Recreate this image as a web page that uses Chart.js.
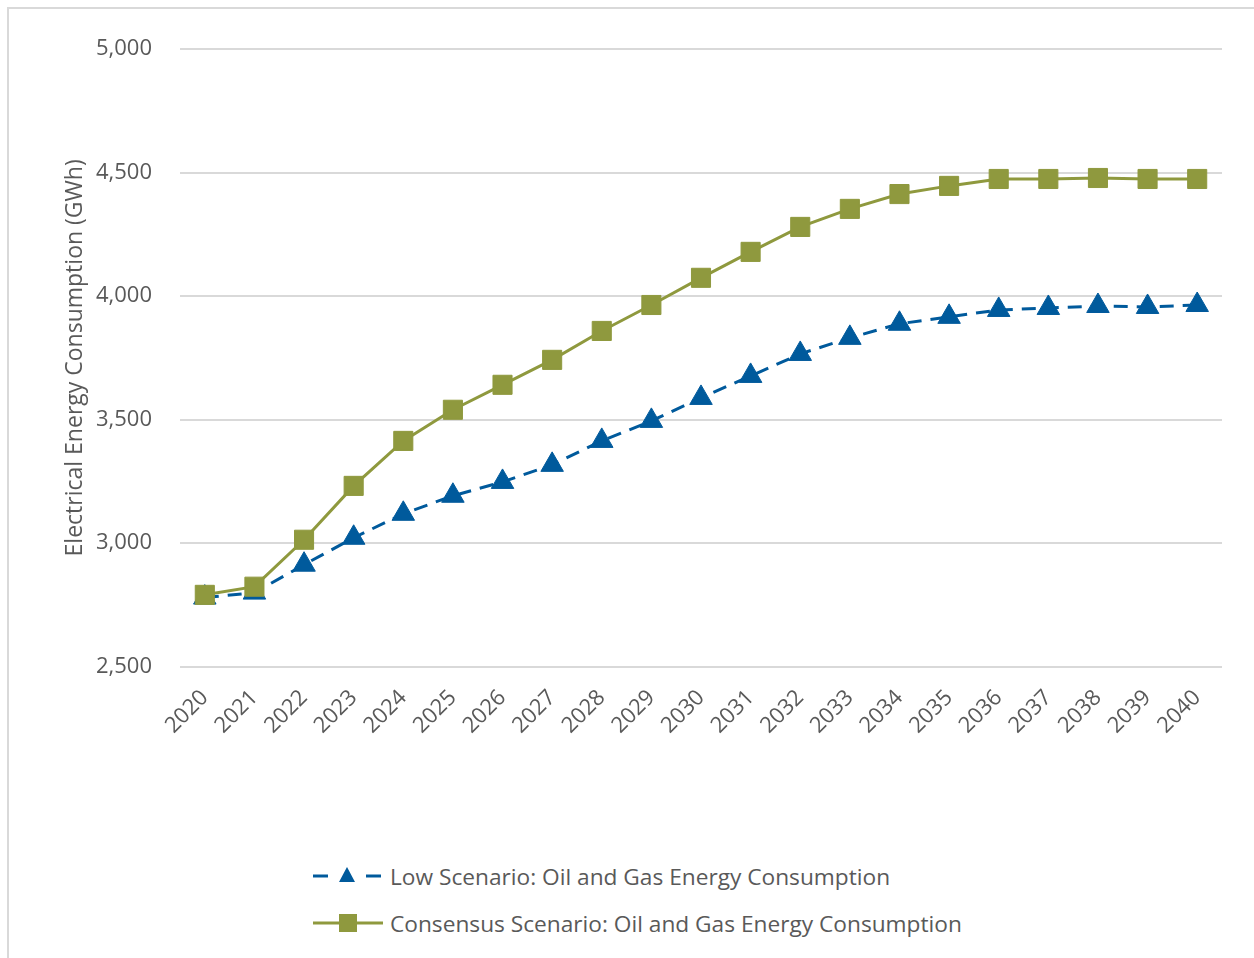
<!DOCTYPE html>
<html>
<head>
<meta charset="utf-8">
<script src="https://cdn.jsdelivr.net/npm/chart.js@4"></script>
<style>
  body { margin: 0; background: #fff; font-family: "Open Sans", "Noto Sans", sans-serif; }
  #frame { position: absolute; left: 7px; top: 7px; width: 1260px; height: 970px; border: 2px solid #d9d9d9; box-sizing: border-box; }
  #wrap { position: absolute; left: 0; top: 0; width: 1254px; height: 780px; }
  #legend { position: absolute; left: 312px; top: 858px; color: #595959; font-size: 22.7px; }
  .item { display: flex; align-items: center; height: 36px; margin-bottom: 11px; }
  .item svg { margin-right: 6px; }
</style>
</head>
<body>
<div id="frame"></div>
<div id="wrap"><canvas id="chart"></canvas></div>
<div id="legend">
  <div class="item">
    <svg width="72" height="24"><line x1="1" y1="12" x2="16" y2="12" stroke="#005a9c" stroke-width="3"/><line x1="54" y1="12" x2="69" y2="12" stroke="#005a9c" stroke-width="3"/><polygon points="35,3 43,18 27,18" fill="#005a9c"/></svg>
    <span>Low Scenario: Oil and Gas Energy Consumption</span>
  </div>
  <div class="item">
    <svg width="72" height="24"><line x1="1" y1="12" x2="71" y2="12" stroke="#8f993e" stroke-width="3"/><rect x="27" y="3" width="18" height="18" fill="#8f993e"/></svg>
    <span>Consensus Scenario: Oil and Gas Energy Consumption</span>
  </div>
</div>
<script>
const years = ['2020','2021','2022','2023','2024','2025','2026','2027','2028','2029','2030',
               '2031','2032','2033','2034','2035','2036','2037','2038','2039','2040'];
const lowScenario = [2780, 2800, 2913, 3022, 3119, 3192, 3248, 3317, 3414, 3495, 3588,
                     3677, 3766, 3831, 3888, 3916, 3944, 3952, 3960, 3956, 3964];
const consensusScenario = [2791, 2824, 3014, 3232, 3414, 3540, 3641, 3742, 3859, 3964, 4074,
                           4179, 4280, 4353, 4413, 4446, 4474, 4474, 4478, 4474, 4474];
const yMin = 2500, yMax = 5000, yStep = 500;

const textColor = '#595959';
const fontFamily = '"Open Sans", "Noto Sans", sans-serif';

new Chart(document.getElementById('chart'), {
    type: 'line',
    data: {
        labels: years,
        datasets: [
            {
                label: 'Low Scenario: Oil and Gas Energy Consumption',
                data: lowScenario,
                borderColor: '#005a9c',
                backgroundColor: '#005a9c',
                borderWidth: 3,
                borderDash: [14, 9],
                pointStyle: 'triangle',
                pointRadius: 13,
                pointBorderWidth: 1,
                tension: 0,
                order: 1
            },
            {
                label: 'Consensus Scenario: Oil and Gas Energy Consumption',
                data: consensusScenario,
                borderColor: '#8f993e',
                backgroundColor: '#8f993e',
                borderWidth: 3,
                pointStyle: 'rect',
                pointRadius: 13.5,
                pointBorderWidth: 1,
                tension: 0,
                order: 0
            }
        ]
    },
    options: {
        responsive: true,
        maintainAspectRatio: false,
        animation: false,
        layout: { padding: { top: 49, right: 32, left: 62, bottom: 31 } },
        plugins: {
            legend: { display: false },
            tooltip: { enabled: false }
        },
        scales: {
            x: {
                offset: true,
                grid: { display: false },
                border: { display: false },
                ticks: {
                    color: textColor,
                    font: { family: fontFamily, size: 22 },
                    maxRotation: 45,
                    minRotation: 45,
                    padding: 10
                }
            },
            y: {
                min: yMin,
                max: yMax,
                afterFit: scale => { scale.width = 118; },
                grid: { color: '#d9d9d9', lineWidth: 2, drawTicks: false },
                border: { display: false },
                ticks: {
                    stepSize: yStep,
                    color: textColor,
                    font: { family: fontFamily, size: 22 },
                    padding: 28,
                    callback: v => v.toLocaleString('en-US')
                },
                title: {
                    display: true,
                    text: 'Electrical Energy Consumption (GWh)',
                    color: textColor,
                    font: { family: fontFamily, size: 23 },
                    padding: { top: 0, bottom: 7 }
                }
            }
        }
    }
});
</script>
</body>
</html>
